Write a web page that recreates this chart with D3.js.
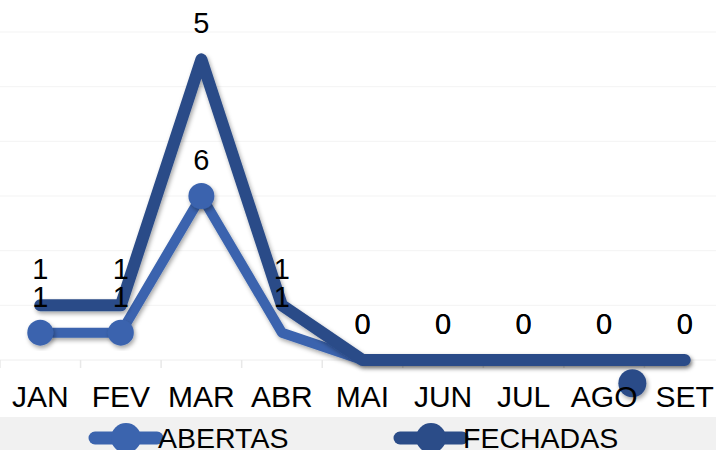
<!DOCTYPE html>
<html>
<head>
<meta charset="utf-8">
<script src="https://cdn.jsdelivr.net/npm/d3@7"></script>
<style>
  html, body { margin: 0; padding: 0; background: #fff; }
  svg { display: block; }
  text { font-family: "Liberation Sans", Arial, sans-serif; fill: #000; }
</style>
</head>
<body>
<svg id="chart" width="716" height="450"></svg>
<script>
// Monthly counts
const months = ["JAN", "FEV", "MAR", "ABR", "MAI", "JUN", "JUL", "AGO", "SET"];
const abertas = [1, 1, 6, 1, 0, 0, 0, 0, 0];
const fechadas = [1, 1, 5, 1, 0, 0, 0, 0, 0];
const yTicks = [0, 2, 4, 6, 8, 10, 12];
const seriesNames = ["ABERTAS", "FECHADAS"];
// months where the ABERTAS line shows a marker
const abertasMarked = ["JAN", "FEV", "MAR"];
// a detached FECHADAS marker (fractional month index, value)
const fechadasLoose = [{ idx: 7.35, value: -0.85 }];

const colors = { ABERTAS: "#3b64ae", FECHADAS: "#2b4c88" };

const W = 716, H = 450;
const svg = d3.select("#chart");

// stacked line: FECHADAS sits on top of ABERTAS
const stackedF = fechadas.map((v, i) => v + abertas[i]);

const x = d3.scaleLinear().domain([-0.5, months.length - 0.5]).range([0, 725]);
const y = d3.scaleLinear().domain([0, 12]).range([360, 32]);

const defs = svg.append("defs");
const sh = defs.append("filter").attr("id", "shadow")
  .attr("x", "-20%").attr("y", "-20%").attr("width", "140%").attr("height", "140%");
sh.append("feDropShadow").attr("dx", 1.5).attr("dy", 2.5)
  .attr("stdDeviation", 2).attr("flood-color", "#000").attr("flood-opacity", 0.35);

// gridlines
svg.append("g").selectAll("line").data(yTicks.filter(t => t > 0)).join("line")
  .attr("x1", 0).attr("x2", W)
  .attr("y1", d => y(d)).attr("y2", d => y(d))
  .attr("stroke", "#f3f3f3").attr("stroke-width", 1);

// category axis with separators between months
svg.append("line").attr("x1", 0).attr("x2", W).attr("y1", y(0)).attr("y2", y(0))
  .attr("stroke", "#eeeeee").attr("stroke-width", 1);
svg.append("g").selectAll("line").data(d3.range(months.length + 1)).join("line")
  .attr("x1", d => x(d - 0.5)).attr("x2", d => x(d - 0.5))
  .attr("y1", y(0)).attr("y2", y(0) + 8)
  .attr("stroke", "#e8e8e8").attr("stroke-width", 1.5);

const line = d3.line().x((d, i) => x(i)).y(d => y(d));

// ABERTAS line and markers
svg.append("path").datum(abertas)
  .attr("d", line).attr("fill", "none")
  .attr("stroke", colors.ABERTAS).attr("stroke-width", 10)
  .attr("stroke-linejoin", "round").attr("stroke-linecap", "round")
  .attr("filter", "url(#shadow)");
svg.append("g").selectAll("circle")
  .data(abertas.map((v, i) => ({ v, i })).filter(d => abertasMarked.includes(months[d.i])))
  .join("circle")
  .attr("cx", d => x(d.i)).attr("cy", d => y(d.v)).attr("r", 13)
  .attr("fill", colors.ABERTAS).attr("filter", "url(#shadow)");

// FECHADAS stacked line
svg.append("path").datum(stackedF)
  .attr("d", line).attr("fill", "none")
  .attr("stroke", colors.FECHADAS).attr("stroke-width", 12)
  .attr("stroke-linejoin", "round").attr("stroke-linecap", "round")
  .attr("filter", "url(#shadow)");
svg.append("g").selectAll("circle").data(fechadasLoose).join("circle")
  .attr("cx", d => x(d.idx)).attr("cy", d => y(d.value)).attr("r", 14)
  .attr("fill", colors.FECHADAS).attr("filter", "url(#shadow)");

// data labels
const labelSize = 29;
svg.append("g").selectAll("text").data(abertas).join("text")
  .attr("x", (d, i) => x(i)).attr("y", d => y(d) - 26)
  .attr("text-anchor", "middle").attr("font-size", labelSize)
  .text(d => d);
svg.append("g").selectAll("text").data(fechadas).join("text")
  .attr("x", (d, i) => x(i)).attr("y", (d, i) => y(stackedF[i]) - 26)
  .attr("text-anchor", "middle").attr("font-size", labelSize)
  .text(d => d);

// month labels
svg.append("g").selectAll("text").data(months).join("text")
  .attr("x", (d, i) => x(i)).attr("y", 407)
  .attr("text-anchor", "middle").attr("font-size", 30)
  .text(d => d);

// legend
svg.append("rect").attr("x", 0).attr("y", 417).attr("width", W).attr("height", H - 417)
  .attr("fill", "#f1f1f1");
const legendX = [95, 400];
const lg = svg.append("g").selectAll("g").data(seriesNames).join("g")
  .attr("transform", (d, i) => `translate(${legendX[i]},438)`);
lg.append("line").attr("x1", 0).attr("x2", 62).attr("y1", 0).attr("y2", 0)
  .attr("stroke", d => colors[d]).attr("stroke-width", 13).attr("stroke-linecap", "round");
lg.append("circle").attr("cx", 31).attr("cy", 0).attr("r", 15)
  .attr("fill", d => colors[d]);
lg.append("text").attr("x", 63).attr("y", 10).attr("font-size", 28.5)
  .text(d => d);
</script>
</body>
</html>
